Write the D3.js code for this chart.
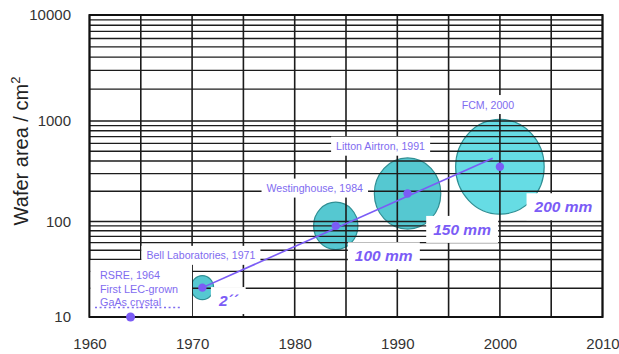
<!DOCTYPE html>
<html>
<head>
<meta charset="utf-8">
<script src="https://cdn.jsdelivr.net/npm/d3@7/dist/d3.min.js"></script>
<style>
  html, body { margin: 0; padding: 0; background: #fff; }
  svg { display: block; font-family: "Liberation Sans", Arial, sans-serif; }
</style>
</head>
<body>
<svg id="chart" width="619" height="354"></svg>
<script>
// Wafer sizes over time: companies, years, wafer area (cm²) and diameter (mm)
const waferMakers = ["Bell Laboratories", "Westinghouse", "Litton Airtron", "FCM"];
const waferYears = [1971, 1984, 1991, 2000];
const waferAreas = [20.3, 90, 190, 350];
const waferDiameters = [50.8, 100, 150, 200];
const sizeLabels = ["2´´", "100 mm", "150 mm", "200 mm"];

// First LEC-grown GaAs crystal
const firstCrystalYear = 1964;
const firstCrystalArea = 10;
const firstCrystalLines = ["RSRE, 1964", "First LEC-grown", "GaAs crystal"];

// Trend line through the wafer points
const trendYears = [1971, 1999.3];
const trendAreas = [20.3, 425];

// Axis ticks
const xTicks = [1960, 1970, 1980, 1990, 2000, 2010];
const xGridYears = [1960, 1965, 1970, 1975, 1980, 1985, 1990, 1995, 2000, 2005, 2010];
const yTicks = [10, 100, 1000, 10000];

const svg = d3.select("#chart");
const plotLeft = 89.5, plotRight = 602.5, plotTop = 15, plotBottom = 317;

const x = d3.scaleLinear().domain([1960, 2010]).range([plotLeft, plotRight]);
// log paper, one piece per decade
const y = d3.scaleLog().domain([10, 100, 1000, 10000]).range([plotBottom, 221.5, 121, plotTop]);
const r = d3.scaleLinear().domain([0, 200]).range([0, 44.3]);

const purple = "#7b5cf6";
const textPurple = "#7f6cf0";

// minor + major horizontal grid values
const yGrid = [];
yTicks.slice(0, -1).forEach(d => { for (let k = 1; k < 10; k++) yGrid.push(d * k); });
yGrid.push(yTicks[yTicks.length - 1]);

// bubbles (under the grid so the lines show through)
const bubbles = svg.append("g");
waferYears.forEach((yr, i) => {
  bubbles.append("ellipse")
    .attr("cx", x(yr)).attr("cy", y(waferAreas[i]))
    .attr("rx", r(waferDiameters[i])).attr("ry", r(waferDiameters[i]) * 1.07)
    .attr("fill", i === 3 ? "#66dce4" : "#55c8d1")
    .attr("stroke", "#2f8f94").attr("stroke-width", 1.2);
});

// grid
const grid = svg.append("g").attr("stroke", "#1c1c1c").attr("stroke-width", 1.3);
grid.selectAll("line.h").data(yGrid).join("line").attr("class", "h")
  .attr("x1", plotLeft).attr("x2", plotRight)
  .attr("y1", d => y(d)).attr("y2", d => y(d));
grid.selectAll("line.v").data(xGridYears).join("line").attr("class", "v")
  .attr("y1", plotTop).attr("y2", plotBottom)
  .attr("x1", d => x(d)).attr("x2", d => x(d))
  .attr("stroke-width", 1.6);
svg.append("rect").attr("x", plotLeft).attr("y", plotTop)
  .attr("width", plotRight - plotLeft).attr("height", plotBottom - plotTop)
  .attr("fill", "none").attr("stroke", "#111").attr("stroke-width", 2);

// axes text
const xAxis = d3.axisBottom(x).tickValues(xTicks).tickFormat(d3.format("d")).tickSize(0).tickPadding(21);
svg.append("g").attr("transform", `translate(0,${plotBottom})`).call(xAxis)
  .call(g => g.select(".domain").remove())
  .call(g => g.selectAll("text").attr("font-size", 15).attr("fill", "#333")
    .attr("font-family", "Liberation Sans, Arial, sans-serif"));

const yAxis = d3.axisLeft(y).tickValues(yTicks).tickFormat(d3.format("d")).tickSize(0).tickPadding(18.5);
svg.append("g").attr("transform", `translate(${plotLeft},0)`).call(yAxis)
  .call(g => g.select(".domain").remove())
  .call(g => g.selectAll("text").attr("font-size", 15).attr("fill", "#333")
    .attr("font-family", "Liberation Sans, Arial, sans-serif"));

const yTitle = svg.append("text")
  .attr("transform", "translate(28,151) rotate(-90)")
  .attr("text-anchor", "middle").attr("font-size", 20).attr("fill", "#222");
yTitle.append("tspan").text("Wafer area / cm");
yTitle.append("tspan").attr("dy", -8).attr("font-size", 13).text("2");

// label layer: white boxes behind the text
const boxes = svg.append("g");
const labels = svg.append("g");

function boxed(node, padX, padY) {
  const b = node.getBBox();
  boxes.append("rect")
    .attr("x", b.x - padX).attr("y", b.y - padY)
    .attr("width", b.width + 2 * padX).attr("height", b.height + 2 * padY)
    .attr("fill", "#fff");
}

// first crystal note
const firstNote = labels.append("g");
firstCrystalLines.forEach((t, i) => {
  firstNote.append("text").attr("x", 100).attr("y", 279 + i * 13.5)
    .attr("font-size", 10.8).attr("fill", textPurple).text(t);
});
firstNote.append("line").attr("x1", 95).attr("x2", 182).attr("y1", 307.5).attr("y2", 307.5)
  .attr("stroke", textPurple).attr("stroke-width", 1.3).attr("stroke-dasharray", "2,2.6");
{
  const b = firstNote.node().getBBox();
  boxes.append("rect").attr("x", plotLeft + 1).attr("y", b.y - 9)
    .attr("width", b.x + b.width + 9 - plotLeft).attr("height", plotBottom - 1 - (b.y - 9))
    .attr("fill", "#fff");
}

// maker labels above each bubble
const nameOffsets = [[-1.5, -32], [-21, -37.5], [-27, -47], [-12, -62]];
waferMakers.forEach((m, i) => {
  const t = labels.append("text")
    .attr("x", x(waferYears[i]) + nameOffsets[i][0])
    .attr("y", y(waferAreas[i]) + nameOffsets[i][1])
    .attr("dy", "0.35em").attr("text-anchor", "middle")
    .attr("font-size", 10.6).attr("fill", textPurple)
    .text(`${m}, ${waferYears[i]}`);
  boxed(t.node(), 5, 3.5);
});

// wafer size labels
const sizeOffsets = [[26, 13], [48, 30], [54.5, 36], [63.5, 40]];
sizeLabels.forEach((s, i) => {
  const t = labels.append("text")
    .attr("x", x(waferYears[i]) + sizeOffsets[i][0])
    .attr("y", y(waferAreas[i]) + sizeOffsets[i][1])
    .attr("dy", "0.35em").attr("text-anchor", "middle")
    .attr("font-size", 15.5).attr("font-weight", "bold").attr("font-style", "italic")
    .attr("fill", purple).text(s);
  boxed(t.node(), 7, 5);
});

// trend line and points
const line = d3.line().x(d => x(d[0])).y(d => y(d[1]));
svg.append("path").datum(trendYears.map((yr, i) => [yr, trendAreas[i]]))
  .attr("d", line).attr("fill", "none").attr("stroke", purple).attr("stroke-width", 1.6);

svg.append("g").selectAll("circle").data(waferYears).join("circle")
  .attr("cx", d => x(d)).attr("cy", (d, i) => y(waferAreas[i]))
  .attr("r", 4.2).attr("fill", purple);
svg.append("circle").attr("cx", x(firstCrystalYear)).attr("cy", y(firstCrystalArea))
  .attr("r", 4.5).attr("fill", purple);

labels.raise();
</script>
</body>
</html>
